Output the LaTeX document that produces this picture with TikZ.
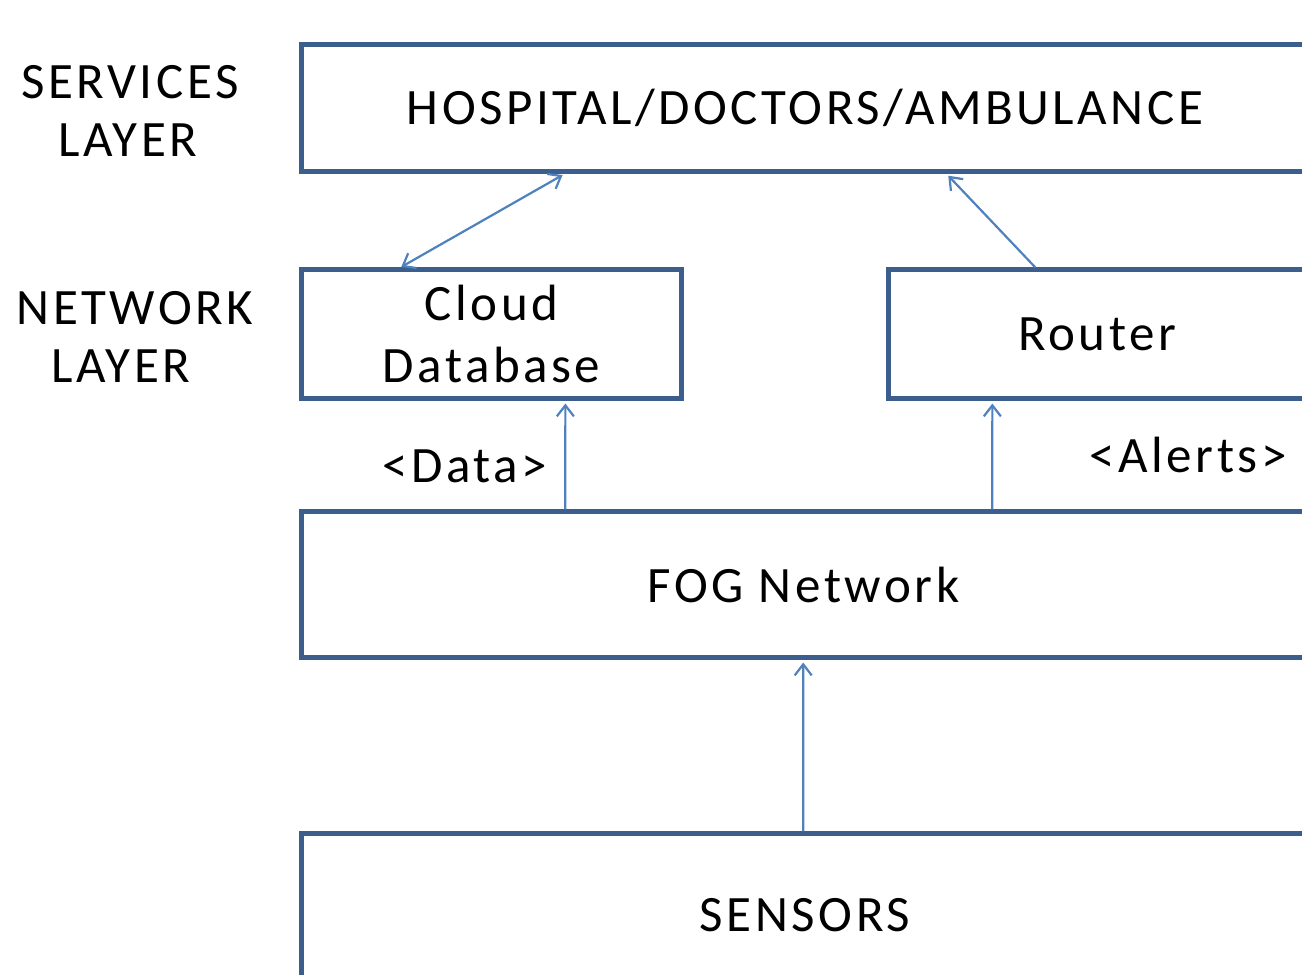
\documentclass[tikz,border=0pt]{standalone}
\usepackage{fontspec}
\setmainfont[LetterSpace=7]{Carlito}
\usetikzlibrary{arrows.meta,calc}
\definecolor{boxblue}{HTML}{3B5E8C}
\definecolor{arrblue}{HTML}{4F81BD}
\begin{document}
\begin{tikzpicture}[x=0.01cm,y=-0.01cm,
  box/.style={draw=boxblue,line width=0.05cm,rectangle,inner sep=0pt,align=center,font=\fontsize{14.5}{17.5}\selectfont},
  lbl/.style={inner sep=0pt,font=\fontsize{14.5}{17.5}\selectfont},
  conn/.style={draw=arrblue,line width=0.022cm,-{Straight Barb[length=0.11cm,width=0.17cm]},shorten >=0.03cm},
  conn2/.style={draw=arrblue,line width=0.022cm,{Straight Barb[length=0.11cm,width=0.17cm]}-{Straight Barb[length=0.11cm,width=0.17cm]},shorten >=0.03cm,shorten <=0.01cm}]
\useasboundingbox (0,0) rectangle (1302,975);
\clip (0,0) rectangle (1302,975);
\node[box,minimum width=10.06cm,minimum height=1.26cm] (services) at (805,108) {HOSPITAL/DOCTORS/AMBULANCE};
\node[box,minimum width=3.79cm,minimum height=1.28cm] (cloud) at (491.5,334) {Cloud\\Database};
\node[box,minimum width=4.16cm,minimum height=1.28cm] (router) at (1097,334) {Router};
\node[box,minimum width=10.03cm,minimum height=1.45cm] (fog) at (803.5,584.5) {FOG Network};
\node[box,minimum width=10.06cm,minimum height=1.62cm] (sensors) at (805,915) {SENSORS};
\node[lbl] (sv1) at (130,82) {SERVICES};
\node[lbl] (sv2) at (128,140) {LAYER};
\node[lbl] (nw1) at (135,308) {NETWORK};
\node[lbl] (nw2) at (121,366) {LAYER};
\node[lbl] (data) at (465,466) {<Data>};
\node[lbl] (alerts) at (1188,455) {<Alerts>};
\draw[conn2] ($(cloud.north west)+(101,0)$) -- ($(services.south west)+(266,0)$);
\draw[conn] ($(router.north west)+(149,0)$) -- ($(services.south west)+(647,0)$);
\draw[conn] ($(fog.north west)+(266,0)$) -- ($(cloud.south west)+(266,0)$);
\draw[conn] ($(fog.north west)+(693,0)$) -- ($(router.south west)+(106,0)$);
\draw[conn] ($(sensors.north west)+(504,0)$) -- ($(fog.south west)+(504,0)$);
\end{tikzpicture}
\end{document}
